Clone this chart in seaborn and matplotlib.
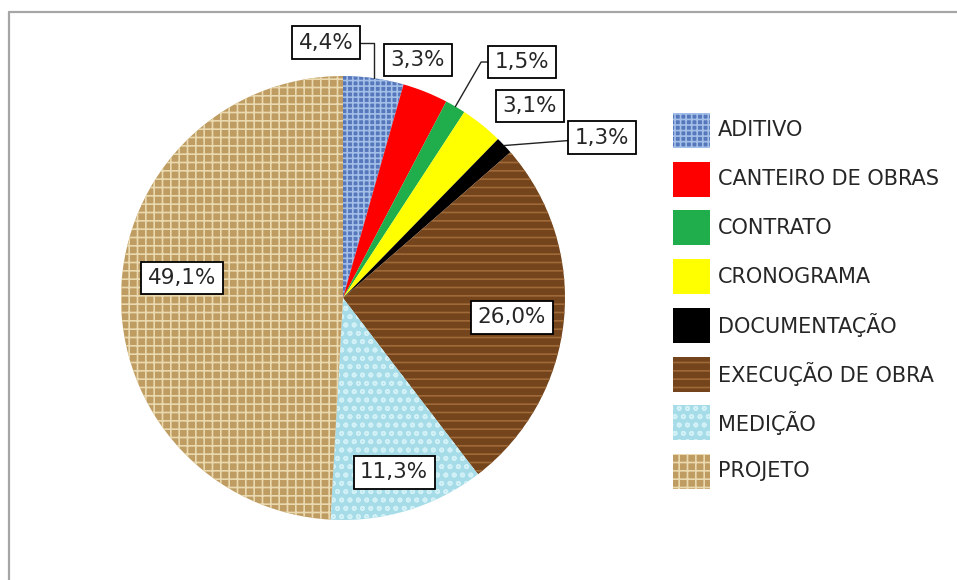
import matplotlib
matplotlib.use("Agg")
import matplotlib.pyplot as plt
import seaborn as sns
import numpy as np
from matplotlib.patches import Rectangle
from matplotlib.lines import Line2D

sns.set_style("white")
plt.rcParams['font.family'] = ['DejaVu Sans']
plt.rcParams['hatch.linewidth'] = 1.2

# ---- data ----
categories = ["ADITIVO", "CANTEIRO DE OBRAS", "CONTRATO", "CRONOGRAMA",
              "DOCUMENTAÇÃO", "EXECUÇÃO DE OBRA", "MEDIÇÃO", "PROJETO"]
values = [4.4, 3.3, 1.5, 3.1, 1.3, 26.0, 11.3, 49.1]
labels = ["4,4%", "3,3%", "1,5%", "3,1%", "1,3%", "26,0%", "11,3%", "49,1%"]

# ---- styling (texture imitation) ----
face_colors = ["#5677bb", "#ff0000", "#1fae4b", "#ffff00", "#000000",
               "#74441c", "#a6dce8", "#bf9c62"]
hatch_colors = ["#a3bfe8", "#ff0000", "#1fae4b", "#ffff00", "#000000",
                "#a06a38", "#d2f1f7", "#ead9ae"]
hatches = ["+++", None, None, None, None, "--", "oo", "++"]

# label positions (pie units, center = 0,0, radius = 1)
label_pos = [(-0.077, 1.149), (0.338, 1.072), (0.806, 1.063), (0.842, 0.865),
             (1.167, 0.721), (0.761, -0.086), (0.230, -0.784), (-0.725, 0.090)]
leader = [True, False, True, False, True, False, False, False]
leader_style = ["angle,angleA=0,angleB=90,rad=0", None,
                "angle,angleA=180,angleB=60,rad=0", None, "arc3", None, None, None]

W, H = 957, 580
fig = plt.figure(figsize=(W / 100, H / 100), dpi=100)
fig.patch.set_facecolor("white")

cx, cy, R = 343, 298, 222
ax = fig.add_axes([(cx - R) / W, (H - cy - R) / H, 2 * R / W, 2 * R / H])

wedges, _ = ax.pie(values, startangle=90, counterclock=False,
                   colors=face_colors,
                   wedgeprops=dict(linewidth=0))
for w, hc, h in zip(wedges, hatch_colors, hatches):
    w.set_edgecolor(hc)
    w.set_linewidth(0)
    if h:
        w.set_hatch(h)
ax.set_xlim(-1, 1)
ax.set_ylim(-1, 1)
ax.set_aspect("equal")
ax.axis("off")

# labels
total = sum(values)
cum = np.cumsum([0] + values[:-1])
txt_color = "#262626"
for i, (lab, pos) in enumerate(zip(labels, label_pos)):
    mid = 90 - 360 * (cum[i] + values[i] / 2) / total
    edge = (np.cos(np.radians(mid)), np.sin(np.radians(mid)))
    bbox = dict(boxstyle="square,pad=0.3", fc="white", ec="black", lw=1.3)
    if leader[i]:
        ax.annotate(lab, xy=edge, xytext=pos, ha="center", va="center",
                    fontsize=15.5, color=txt_color, bbox=bbox,
                    annotation_clip=False,
                    arrowprops=dict(arrowstyle="-", lw=1.0, color="#222222",
                                    connectionstyle=leader_style[i],
                                    shrinkA=0, shrinkB=0))
    else:
        ax.text(pos[0], pos[1], lab, ha="center", va="center",
                fontsize=15.5, color=txt_color, bbox=bbox, clip_on=False)

# legend (manual, figure pixel layout)
lg_x, lg_y0, lg_pitch, sw_w, sw_h = 673, 113, 48.7, 37, 35
for i, (cat, fc, hc, h) in enumerate(zip(categories, face_colors,
                                          hatch_colors, hatches)):
    top = lg_y0 + i * lg_pitch
    r = Rectangle((lg_x / W, 1 - (top + sw_h) / H), sw_w / W, sw_h / H,
                  transform=fig.transFigure, facecolor=fc, edgecolor=hc,
                  hatch=h, linewidth=0)
    fig.add_artist(r)
    fig.text((lg_x + sw_w + 8) / W, 1 - (top + sw_h / 2) / H, cat,
             ha="left", va="center", fontsize=15, color=txt_color)

# chart area border (top and left visible)
fig.add_artist(Line2D([8.5 / W, 1], [1 - 11.5 / H, 1 - 11.5 / H],
                      transform=fig.transFigure, color="#a6a6a6", lw=1.6))
fig.add_artist(Line2D([8.5 / W, 8.5 / W], [0, 1 - 11.5 / H],
                      transform=fig.transFigure, color="#a6a6a6", lw=1.6))

fig.savefig("out.png", dpi=100, facecolor="white")
